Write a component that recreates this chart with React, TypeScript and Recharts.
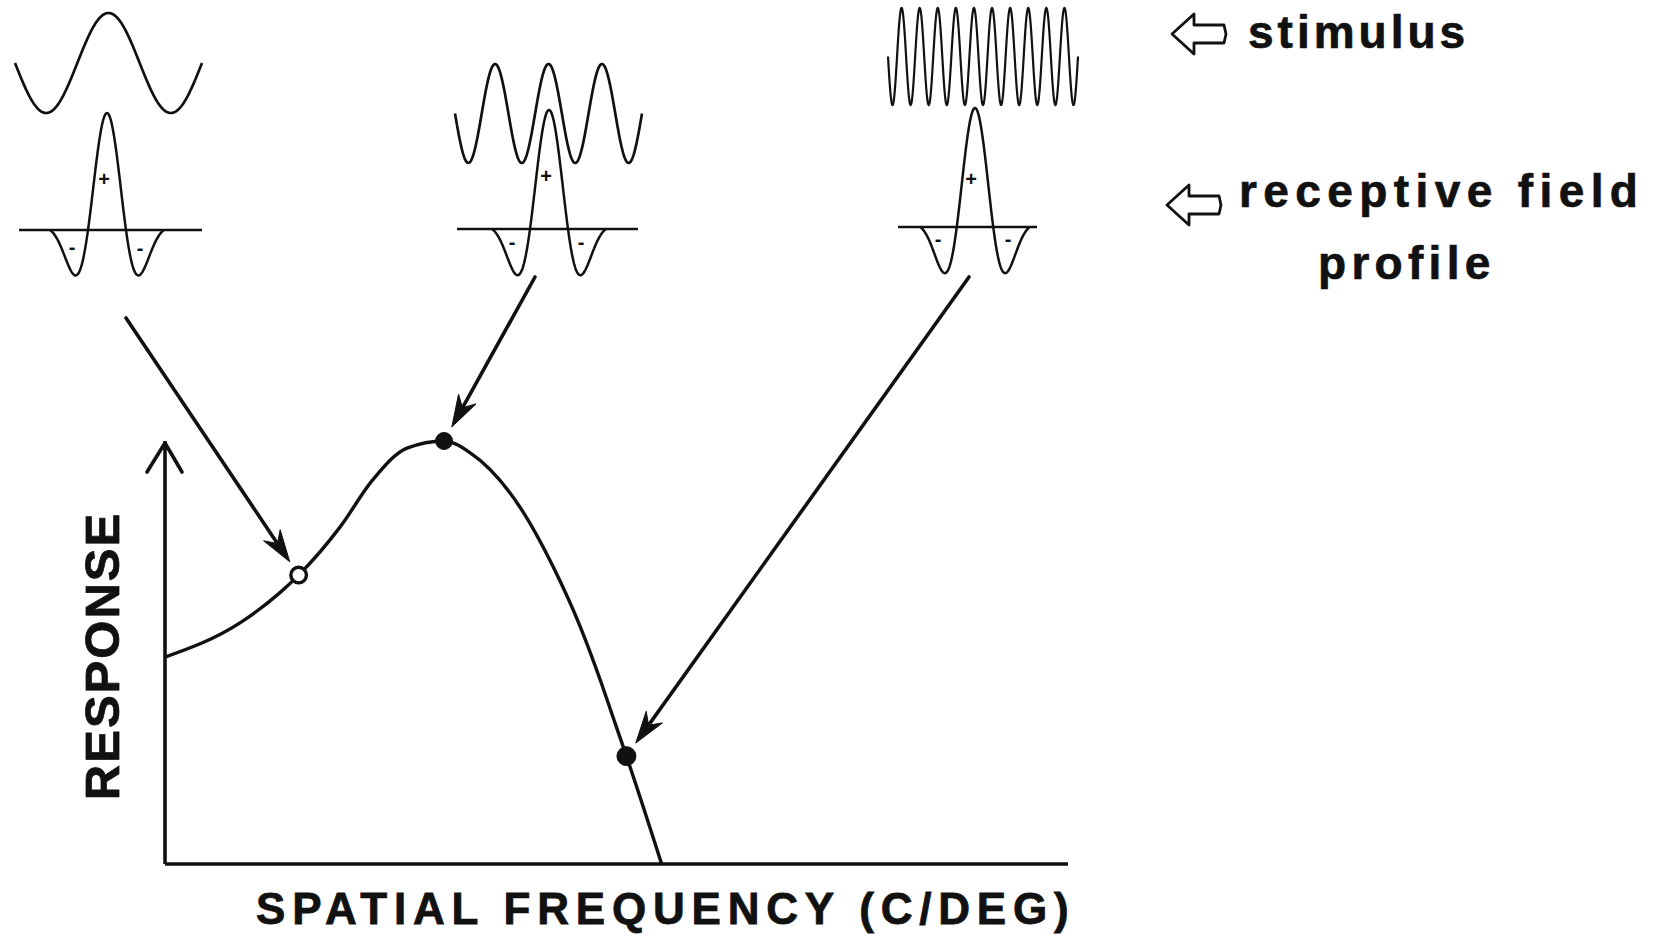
import React from 'react';
import { ComposedChart, Line, XAxis, YAxis, ReferenceDot, Customized } from 'recharts';

// ---- data ----
const frequency = [0, 0.83, 1.27, 1.48, 1.94, 2.3, 2.68, 3.09, 3.38, 3.93, 4.3, 4.6, 4.82, 4.96, 5.11, 5.5];
const response = [4.89, 5.7, 6.41, 6.83, 7.97, 9.08, 9.83, 10.0, 9.72, 8.44, 7.02, 5.6, 4.35, 3.48, 2.55, 0];
const markerIndex = [3, 7, 14];
const markerHollow = [true, false, false];
const stimulusCycles = [1.5, 3.5, 10.5];
const xAxisTitle = 'SPATIAL FREQUENCY (C/DEG)';
const yAxisTitle = 'RESPONSE';
const legendLabels = ['stimulus', 'receptive field', 'profile'];

const curve = frequency.map((f, i) => ({ f, r: response[i], m: markerIndex.indexOf(i) }));

// ---- layout ----
const W = 1654;
const H = 934;
const PLOT = { left: 165, right: 1068, top: 441, bottom: 864 };
const Y_AXIS_W = 60;
const X_AXIS_H = 30;
const FONT = "'Liberation Sans', Arial, Helvetica, sans-serif";

const stimLayout = [
  { x0: 15, x1: 202, cy: 63, a: 50, sw: 2.7 },
  { x0: 455, x1: 642, cy: 113.5, a: 49.5, sw: 2.7 },
  { x0: 888, x1: 1078, cy: 56.5, a: 48.5, sw: 2.2 },
];
const rfLayout = [
  { cx: 107, by: 230, x0: 19, x1: 202, h: 117, p: 76, s: 25 },
  { cx: 549, by: 229, x0: 457, x1: 638, h: 119, p: 76, s: 25 },
  { cx: 975, by: 227, x0: 898, x1: 1037, h: 119, p: 73, s: 24 },
];
const signLayout = [
  { plus: [104, 186], minus: [[72, 254], [140, 255]] },
  { plus: [546, 183], minus: [[512, 249], [581, 249]] },
  { plus: [971, 186], minus: [[938, 246], [1008, 246]] },
];
const arrowAnchors = [
  [126, 318],
  [535, 277],
  [969, 277],
];

function stimulusPath(s: any, cycles: number) {
  const n = Math.max(200, Math.round((s.x1 - s.x0) * 3));
  let d = '';
  for (let i = 0; i <= n; i++) {
    const t = i / n;
    const x = s.x0 + (s.x1 - s.x0) * t;
    const y = s.cy + s.a * Math.sin(2 * Math.PI * cycles * t);
    d += (i === 0 ? 'M' : 'L') + x.toFixed(2) + ',' + y.toFixed(2);
  }
  return d;
}

function rfPath(r: any) {
  const half = 0.75 * r.p;
  let d = '';
  const n = 240;
  for (let i = 0; i <= n; i++) {
    const t = -half + (2 * half * i) / n;
    const v = Math.cos((2 * Math.PI * t) / r.p) * Math.exp(-(t * t) / (2 * r.s * r.s));
    const y = r.by - r.h * v;
    d += (i === 0 ? 'M' : 'L') + (r.cx + t).toFixed(2) + ',' + y.toFixed(2);
  }
  return d;
}

function hollowArrow(x0: number, cy: number) {
  const pts = [
    [x0, cy],
    [x0 + 22, cy - 20],
    [x0 + 22, cy - 9],
    [x0 + 52, cy - 9],
    [x0 + 54, cy],
    [x0 + 52, cy + 9],
    [x0 + 22, cy + 9],
    [x0 + 22, cy + 20],
  ];
  return pts.map((p) => p.join(',')).join(' ');
}

const Decor = () => (
  <g>
    {stimLayout.map((s, i) => (
      <path key={'s' + i} d={stimulusPath(s, stimulusCycles[i])} fill="none" stroke="#111" strokeWidth={s.sw} />
    ))}
    {rfLayout.map((r, i) => (
      <g key={'r' + i}>
        <path d={rfPath(r)} fill="none" stroke="#fff" strokeWidth={7} />
        <line x1={r.x0} x2={r.x1} y1={r.by} y2={r.by} stroke="#111" strokeWidth={2.7} />
        <path d={rfPath(r)} fill="none" stroke="#111" strokeWidth={2.5} />
      </g>
    ))}
    {signLayout.map((g, i) => (
      <g key={'g' + i} fontFamily={FONT} fontWeight="bold" fill="#111" textAnchor="middle">
        <text x={g.plus[0]} y={g.plus[1]} fontSize={20}>+</text>
        {g.minus.map((m, j) => (
          <text key={j} x={m[0]} y={m[1]} fontSize={20}>-</text>
        ))}
      </g>
    ))}
    <polygon points={hollowArrow(1172, 34)} fill="#fff" stroke="#111" strokeWidth={2.8} strokeLinejoin="round" />
    <polygon points={hollowArrow(1167, 205)} fill="#fff" stroke="#111" strokeWidth={2.8} strokeLinejoin="round" />
    <g fontFamily={FONT} fontWeight="bold" fill="#111" stroke="#111" strokeWidth={0.7} fontSize={46}>
      <text x={1248} y={48} style={{ letterSpacing: '4px' }}>{legendLabels[0]}</text>
      <text x={1239} y={207} style={{ letterSpacing: '6.4px' }}>{legendLabels[1]}</text>
      <text x={1318} y={279} style={{ letterSpacing: '5.3px' }}>{legendLabels[2]}</text>
    </g>
    <text
      transform="translate(119,656) rotate(-90)"
      textAnchor="middle"
      fontFamily={FONT}
      fontWeight="bold"
      fontSize={49}
      fill="#111"
      stroke="#111"
      strokeWidth={0.8}
      style={{ letterSpacing: '2px' }}
    >
      {yAxisTitle}
    </text>
    <text
      x={256}
      y={924}
      fontFamily={FONT}
      fontWeight="bold"
      fontSize={44}
      fill="#111"
      stroke="#111"
      strokeWidth={0.8}
      style={{ letterSpacing: '6.8px' }}
    >
      {xAxisTitle}
    </text>
  </g>
);

const Marker = (props: any) => {
  const { cx, cy, payload, index } = props;
  if (!payload || payload.m < 0 || cx == null || cy == null) return <g key={'d' + index} />;
  const k = payload.m;
  const [ax, ay] = arrowAnchors[k];
  const dx = cx - ax;
  const dy = cy - ay;
  const len = Math.sqrt(dx * dx + dy * dy);
  const ux = dx / len;
  const uy = dy / len;
  const nx = -uy;
  const ny = ux;
  const tx = cx - ux * 16;
  const ty = cy - uy * 16;
  const head = `${tx},${ty} ${tx - ux * 32 + nx * 10},${ty - uy * 32 + ny * 10} ${tx - ux * 22},${ty - uy * 22} ${tx - ux * 32 - nx * 10},${ty - uy * 32 - ny * 10}`;
  const hollow = markerHollow[k];
  return (
    <g key={'d' + index}>
      <line x1={ax} y1={ay} x2={tx - ux * 20} y2={ty - uy * 20} stroke="#111" strokeWidth={3.6} strokeLinecap="round" />
      <polygon points={head} fill="#111" stroke="#111" strokeWidth={1} strokeLinejoin="miter" />
      <circle cx={cx} cy={cy} r={hollow ? 7.8 : k === 2 ? 9.5 : 8.5} fill={hollow ? '#fff' : '#111'} stroke="#111" strokeWidth={hollow ? 3.4 : 1} />
    </g>
  );
};

const AxisArrow = (props: any) => {
  const { cx, cy } = props;
  return (
    <path
      d={`M${cx - 18},${cy + 31} L${cx},${cy + 2} L${cx + 17},${cy + 31}`}
      fill="none"
      stroke="#111"
      strokeWidth={3.6}
      strokeLinecap="round"
      strokeLinejoin="round"
    />
  );
};

export default function App() {
  return (
    <div style={{ position: 'absolute', left: 0, top: 0, width: W, height: H, background: '#fff' }}>
      <ComposedChart
        width={W}
        height={H}
        data={curve}
        margin={{
          top: PLOT.top,
          left: PLOT.left - Y_AXIS_W,
          right: W - PLOT.right,
          bottom: H - PLOT.bottom - X_AXIS_H,
        }}
      >
        <XAxis
          dataKey="f"
          type="number"
          domain={[0, 10]}
          height={X_AXIS_H}
          tick={false}
          tickLine={false}
          axisLine={{ stroke: '#111', strokeWidth: 3.6 }}
        />
        <YAxis
          dataKey="r"
          type="number"
          domain={[0, 10]}
          width={Y_AXIS_W}
          tick={false}
          tickLine={false}
          axisLine={{ stroke: '#111', strokeWidth: 3.6 }}
        />
        <Customized component={Decor} />
        <ReferenceDot x={0} y={10} r={0} ifOverflow="visible" shape={AxisArrow} />
        <Line
          dataKey="r"
          type="monotone"
          stroke="#111"
          strokeWidth={3.4}
          dot={Marker}
          activeDot={false}
          isAnimationActive={false}
        />
      </ComposedChart>
    </div>
  );
}
